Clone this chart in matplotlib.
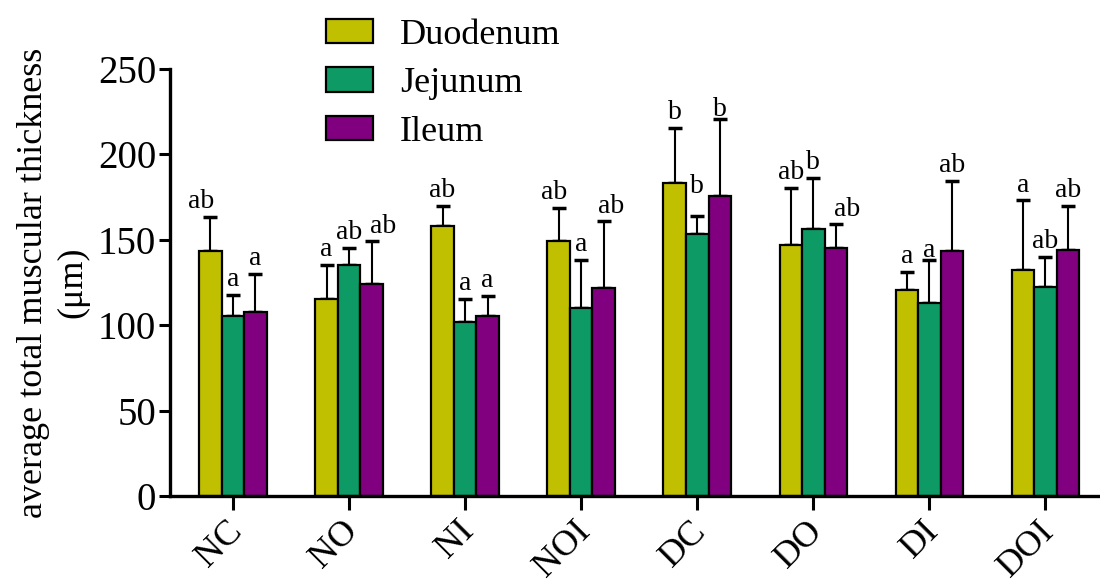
import matplotlib
matplotlib.use("Agg")
import matplotlib.pyplot as plt
import matplotlib.transforms as mtransforms
import numpy as np

# groups and series
groups = ["NC", "NO", "NI", "NOI", "DC", "DO", "DI", "DOI"]
series = ["Duodenum", "Jejunum", "Ileum"]

duodenum = [143.6, 115.2, 158.3, 149.3, 183.1, 147.0, 120.4, 132.3]
jejunum = [105.6, 135.4, 102.0, 110.2, 153.2, 156.5, 112.8, 122.5]
ileum = [107.5, 124.1, 105.6, 121.8, 175.6, 145.2, 143.4, 144.2]

duodenum_sd = [19.9, 20.2, 11.5, 19.5, 32.4, 33.2, 10.6, 40.8]
jejunum_sd = [12.1, 10.0, 13.2, 28.0, 10.9, 29.9, 25.2, 17.6]
ileum_sd = [22.5, 24.9, 11.5, 39.0, 45.1, 13.8, 41.2, 25.8]

duodenum_sig = ["ab", "a", "ab", "ab", "b", "ab", "a", "a"]
jejunum_sig = ["a", "ab", "a", "a", "b", "b", "a", "ab"]
ileum_sig = ["a", "ab", "a", "ab", "b", "ab", "ab", "ab"]

colors = ["#c0c000", "#0e9a64", "#800080"]

# small nudges (pixels) for letters that sit off-centre in the original
nudge = {
    (0, 0): (-9, 0), (0, 3): (-5, 0),
    (1, 4): (0, 14), (1, 6): (0, -6),
    (2, 1): (12, 0), (2, 3): (7, 0), (2, 5): (11, 0), (2, 4): (0, -6),
}

plt.rcParams['font.family'] = ['Liberation Serif', 'DejaVu Serif']

fig = plt.figure(figsize=(11, 5.84), dpi=100)
ax = fig.add_axes([0.1545, 0.1507, 0.8455, 0.7312])

x = np.arange(len(groups))
w = 0.194
means = [duodenum, jejunum, ileum]
sds = [duodenum_sd, jejunum_sd, ileum_sd]
sigs = [duodenum_sig, jejunum_sig, ileum_sig]

for i in range(3):
    pos = x + (i - 1) * w
    ax.bar(pos, means[i], w, color=colors[i], edgecolor="black",
           linewidth=1.6, label=series[i], zorder=2)
    ax.errorbar(pos, means[i], yerr=[np.zeros(len(groups)), sds[i]],
                fmt="none", ecolor="black", elinewidth=1.5, capsize=5,
                capthick=2.5, zorder=1)
    for j, (p, m, s, lab) in enumerate(zip(pos, means[i], sds[i], sigs[i])):
        dx, dy = nudge.get((i, j), (0, 0))
        ax.annotate(lab, (p, m + s), xytext=(dx * 0.72, 2 + dy * 0.72),
                    textcoords="offset points",
                    ha="center", va="bottom", fontsize=20)

ax.set_xlim(-0.543, 7.47)
ax.set_ylim(0, 250)
ax.set_yticks([0, 50, 100, 150, 200, 250])
ax.set_xticks(x)
ax.set_xticklabels(groups, rotation=45, ha="right", fontsize=26)

ax.tick_params(axis="y", labelsize=28, length=8, width=2.2, pad=2)
ax.tick_params(axis="x", length=10, width=2.2, pad=12)
for side in ["top", "right"]:
    ax.spines[side].set_visible(False)
for side in ["left", "bottom"]:
    ax.spines[side].set_linewidth(2.4)

# shift rotated labels so they end just right of the tick
offset = mtransforms.ScaledTranslation(16 / 100, 12 / 100, fig.dpi_scale_trans)
for lbl in ax.get_xticklabels():
    lbl.set_transform(lbl.get_transform() + offset)

ax.set_ylabel("average total muscular thickness\n(μm)", fontsize=26,
              labelpad=6, linespacing=1.25)

ax.legend(loc="upper left", bbox_to_anchor=(0.2964, 0.968),
          bbox_transform=fig.transFigure, frameon=False, fontsize=26,
          handlelength=1.3, handleheight=0.65, handletextpad=0.75,
          labelspacing=0.43, borderpad=0, borderaxespad=0)

fig.savefig("out.png", dpi=100)
